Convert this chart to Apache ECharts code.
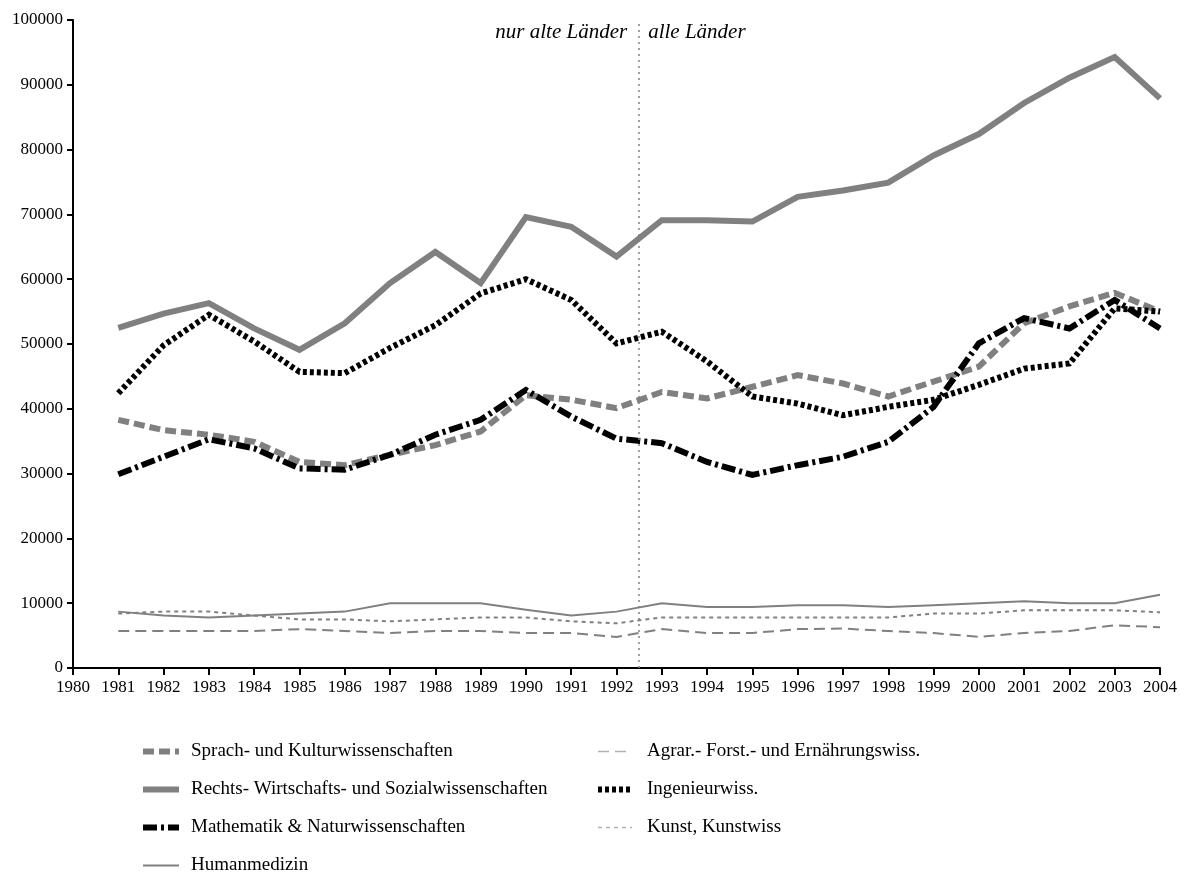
<!DOCTYPE html>
<html>
<head>
<meta charset="utf-8">
<script src="https://cdn.jsdelivr.net/npm/echarts@6/dist/echarts.min.js"></script>
<style>
  html, body { margin: 0; padding: 0; background: #fff; }
  #chart { width: 1181px; height: 872px; }
</style>
</head>
<body>
<div id="chart"></div>
<script>
const years = [1981, 1982, 1983, 1984, 1985, 1986, 1987, 1988, 1989, 1990, 1991, 1992,
  1993, 1994, 1995, 1996, 1997, 1998, 1999, 2000, 2001, 2002, 2003, 2004];

const sprach = [38300, 36700, 36000, 34900, 31800, 31300, 32900, 34400, 36500, 42100, 41400, 40100,
  42600, 41600, 43400, 45200, 43900, 41900, 44200, 46500, 53200, 55800, 57900, 55000];
const rechts = [52500, 54700, 56300, 52400, 49100, 53200, 59400, 64200, 59400, 69600, 68100, 63500,
  69100, 69100, 68900, 72700, 73700, 74900, 79100, 82400, 87200, 91100, 94300, 87900];
const mathe = [29900, 32600, 35300, 33900, 30800, 30600, 32900, 36000, 38300, 42900, 38800, 35400,
  34700, 31800, 29800, 31300, 32600, 34900, 40300, 50100, 54000, 52400, 56800, 52400];
const human = [8700, 8100, 7800, 8100, 8400, 8700, 10000, 10000, 10000, 9000, 8100, 8700,
  10000, 9400, 9400, 9700, 9700, 9400, 9700, 10000, 10300, 10000, 10000, 11300];
const agrar = [5700, 5700, 5700, 5700, 6000, 5700, 5400, 5700, 5700, 5400, 5400, 4800,
  6000, 5400, 5400, 6000, 6100, 5700, 5400, 4800, 5400, 5700, 6600, 6300];
const ingenieur = [42400, 49800, 54500, 50400, 45700, 45500, 49400, 52900, 57800, 60000, 56800, 50100,
  51900, 47300, 41900, 40800, 39000, 40300, 41400, 43700, 46200, 47000, 55500, 55000];
const kunst = [8400, 8700, 8700, 8100, 7500, 7500, 7200, 7500, 7800, 7800, 7200, 6900,
  7800, 7800, 7800, 7800, 7800, 7800, 8400, 8400, 8900, 8900, 8900, 8600];

const splitYear = 1992.5;
const leftNames = ['Sprach- und Kulturwissenschaften', 'Rechts- Wirtschafts- und Sozialwissenschaften',
  'Mathematik & Naturwissenschaften', 'Humanmedizin'];
const rightNames = ['Agrar.- Forst.- und Ernährungswiss.', 'Ingenieurwiss.', 'Kunst, Kunstwiss'];

const font = "'Liberation Serif', 'Times New Roman', serif";
const grey = '#808080';
const lightGrey = '#b0b0b0';

const pairs = (arr) => years.map((y, i) => [y, arr[i]]);

const mkLine = (name, arr, color, width, type, extra) => Object.assign({
  name,
  type: 'line',
  symbol: 'none',
  data: pairs(arr),
  lineStyle: { color, width, type, join: 'miter' },
  itemStyle: { color }
}, extra || {});

const legendBase = {
  orient: 'vertical',
  top: 737,
  height: 200,
  itemWidth: 36,
  itemHeight: 14,
  itemGap: 19,
  itemStyle: { opacity: 0 },
  lineStyle: { width: 'inherit' },
  textStyle: { color: '#000', fontSize: 19, fontFamily: font }
};

const myChart = echarts.init(document.getElementById('chart'));

const option = {
  animation: false,
  textStyle: { fontFamily: font },
  grid: { left: 73, right: 21, top: 20, bottom: 204 },
  xAxis: {
    type: 'value',
    min: 1980,
    max: 2004,
    interval: 1,
    splitLine: { show: false },
    axisLine: { lineStyle: { color: '#000', width: 2 } },
    axisTick: { length: 7, lineStyle: { color: '#000', width: 2 } },
    axisLabel: {
      color: '#000', fontSize: 17, fontFamily: font, margin: 11,
      formatter: (v) => String(v)
    }
  },
  yAxis: {
    type: 'value',
    min: 0,
    max: 100000,
    interval: 10000,
    splitLine: { show: false },
    axisLine: { show: true, lineStyle: { color: '#000', width: 2 } },
    axisTick: { show: true, length: 6, lineStyle: { color: '#000', width: 2 } },
    axisLabel: {
      color: '#000', fontSize: 17, fontFamily: font, margin: 10,
      formatter: (v) => String(v)
    }
  },
  legend: [
    Object.assign({}, legendBase, {
      left: 135,
      data: leftNames,
      textStyle: Object.assign({}, legendBase.textStyle, { padding: [0, 0, 0, 7] })
    }),
    Object.assign({}, legendBase, {
      left: 590,
      itemWidth: 34,
      data: [
        { name: rightNames[0], lineStyle: { color: lightGrey, width: 1.5 } },
        { name: rightNames[1] },
        { name: rightNames[2], lineStyle: { color: lightGrey, width: 1.5 } }
      ],
      textStyle: Object.assign({}, legendBase.textStyle, { padding: [0, 0, 0, 10] })
    })
  ],
  series: [
    mkLine(leftNames[3], human, grey, 2, 'solid'),
    mkLine(rightNames[0], agrar, grey, 2, [11, 6]),
    mkLine(rightNames[2], kunst, grey, 2, [4, 4], {
      markLine: {
        silent: true,
        symbol: 'none',
        label: { show: false },
        lineStyle: { color: grey, width: 1.5, type: [2, 4] },
        data: [{ xAxis: splitYear }]
      }
    }),
    mkLine(leftNames[0], sprach, grey, 6, [11, 5]),
    mkLine(leftNames[1], rechts, grey, 6, 'solid'),
    mkLine(rightNames[1], ingenieur, '#000', 6, [4, 3]),
    mkLine(leftNames[2], mathe, '#000', 6, [14, 4, 3, 4])
  ]
};

myChart.setOption(option);

// annotation on both sides of the 1992/93 divider
const lineX = myChart.convertToPixel({ xAxisIndex: 0 }, splitYear);
myChart.setOption({
  graphic: [
    {
      type: 'text',
      x: lineX - 12,
      y: 32,
      style: {
        text: 'nur alte Länder', font: 'italic 21px ' + font, fill: '#000',
        align: 'right', verticalAlign: 'middle'
      }
    },
    {
      type: 'text',
      x: lineX + 9,
      y: 32,
      style: {
        text: 'alle Länder', font: 'italic 21px ' + font, fill: '#000',
        align: 'left', verticalAlign: 'middle'
      }
    }
  ]
});
</script>
</body>
</html>
